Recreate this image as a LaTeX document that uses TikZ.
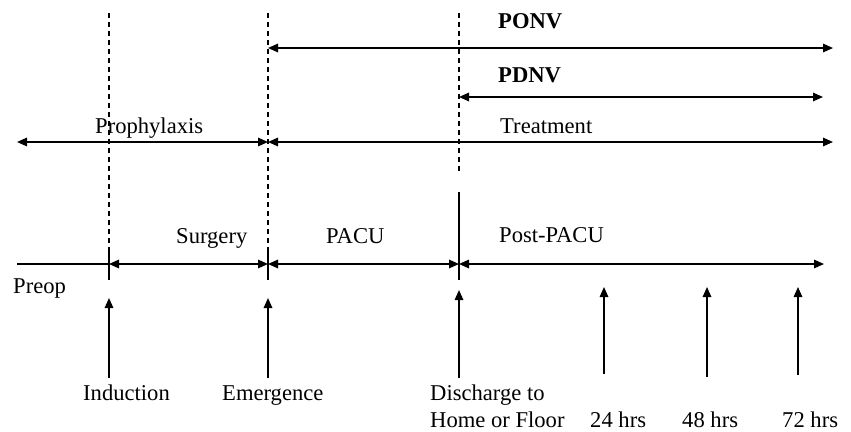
\documentclass[tikz,border=0pt]{standalone}
\usepackage{fontspec}
\setmainfont{Liberation Serif}
\usetikzlibrary{arrows.meta}
\begin{document}
\begin{tikzpicture}[x=1pt,y=-1pt,
  lbl/.style={inner sep=0pt, anchor=base west, font=\fontsize{22.6}{27}\selectfont},
  blbl/.style={inner sep=0pt, anchor=base west, font=\fontsize{22.6}{27}\selectfont\bfseries},
  tip/.tip={Triangle[length=10pt,width=8.5pt]},
  span/.style={line width=1.6pt, tip-tip},
  uparrow/.style={line width=1.6pt, -tip},
  guide/.style={line width=1.2pt, dash pattern=on 5pt off 4pt},
  tick/.style={line width=1.2pt},
  plain/.style={line width=1.2pt}]
\useasboundingbox (0,0) rectangle (851,431);
% guide coordinates
\coordinate (indT) at (109,13);  \coordinate (indM) at (109,250); \coordinate (indB) at (109,280);
\coordinate (emeT) at (268,13);  \coordinate (emeM) at (268,250); \coordinate (emeB) at (268,280);
\coordinate (disT) at (459,13);  \coordinate (disM) at (459,172);
\coordinate (disS) at (459,192); \coordinate (disB) at (459,280);
% dashed guides and ticks
\draw[guide] (indT) -- (indM);
\draw[guide] (emeT) -- (emeM);
\draw[guide] (disT) -- (disM);
\draw[tick] (indM) -- (indB);
\draw[tick] (emeM) -- (emeB);
\draw[tick] (disS) -- (disB);
% top spans
\coordinate (ponvL) at (268,48); \coordinate (ponvR) at (833,48);
\coordinate (pdnvL) at (459,97); \coordinate (pdnvR) at (823,97);
\coordinate (proL) at (17,142);  \coordinate (proR) at (268,142);
\coordinate (treL) at (268,142); \coordinate (treR) at (833,142);
\draw[span] (ponvL) -- (ponvR);
\draw[span] (pdnvL) -- (pdnvR);
\draw[span] (proL) -- (proR);
\draw[span] (treL) -- (treR);
% timeline
\coordinate (preL) at (17,264);
\coordinate (t1) at (109,264); \coordinate (t2) at (268,264);
\coordinate (t3) at (459,264); \coordinate (t4) at (824,264);
\draw[plain] (preL) -- (t1);
\draw[span] (t1) -- (t2);
\draw[span] (t2) -- (t3);
\draw[span] (t3) -- (t4);
% upward arrows
\coordinate (aIndB) at (109,378); \coordinate (aIndT) at (109,298);
\coordinate (aEmeB) at (268,378); \coordinate (aEmeT) at (268,298);
\coordinate (aDisB) at (459,378); \coordinate (aDisT) at (459,290);
\coordinate (a24B) at (604,374);  \coordinate (a24T) at (604,287);
\coordinate (a48B) at (707,377);  \coordinate (a48T) at (707,287);
\coordinate (a72B) at (798,375);  \coordinate (a72T) at (798,287);
\draw[uparrow] (aIndB) -- (aIndT);
\draw[uparrow] (aEmeB) -- (aEmeT);
\draw[uparrow] (aDisB) -- (aDisT);
\draw[uparrow] (a24B) -- (a24T);
\draw[uparrow] (a48B) -- (a48T);
\draw[uparrow] (a72B) -- (a72T);
% labels
\node[blbl] (ponv) at (498,28) {PONV};
\node[blbl] (pdnv) at (498,82) {PDNV};
\node[lbl] (proph) at (95,133) {Prophylaxis};
\node[lbl] (treat) at (500,133) {Treatment};
\node[lbl] (surg) at (176,243) {Surgery};
\node[lbl] (pacu) at (326,243) {PACU};
\node[lbl] (post) at (499,242) {Post-PACU};
\node[lbl] (preop) at (13,293) {Preop};
\node[lbl] (induct) at (83,400) {Induction};
\node[lbl] (emerg) at (222,400) {Emergence};
\node[lbl] (disch1) at (430,400) {Discharge to};
\node[lbl] (disch2) at (430,427) {Home or Floor};
\node[lbl] (h24) at (590,427) {24 hrs};
\node[lbl] (h48) at (682,427) {48 hrs};
\node[lbl] (h72) at (782,427) {72 hrs};
\end{tikzpicture}
\end{document}
